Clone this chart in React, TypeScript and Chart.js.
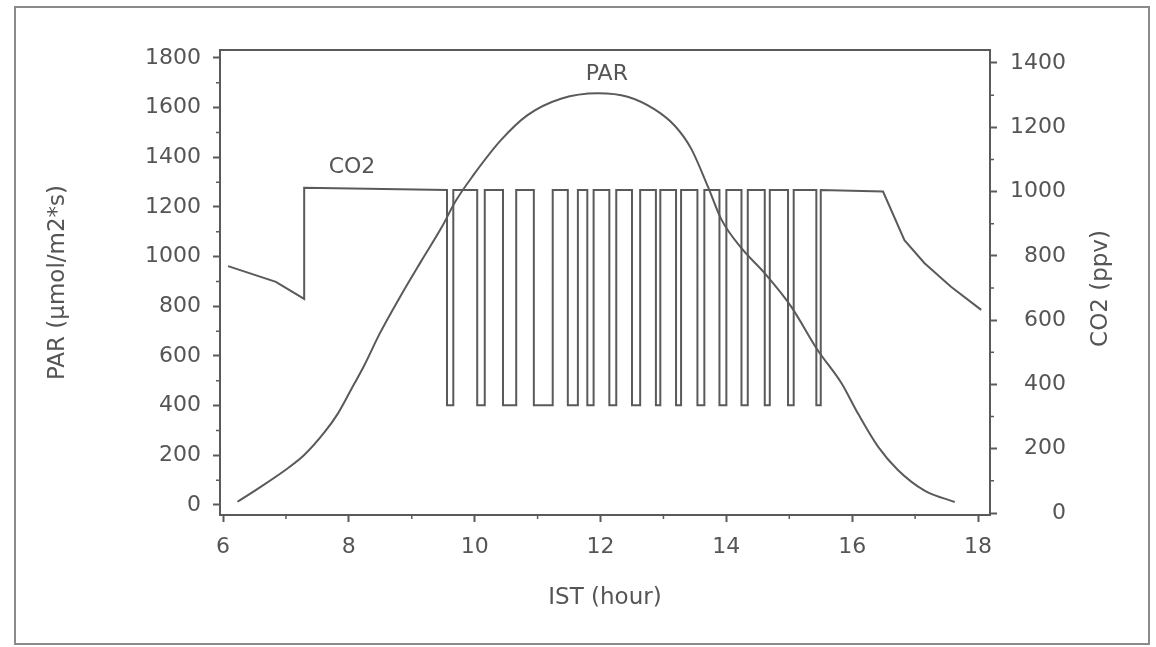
import React, { useEffect, useRef } from "react";
import { Chart, registerables } from "chart.js";

Chart.register(...registerables);

// ---------- data ----------
const parHours = [6.23, 6.52, 7.03, 7.29, 7.61, 7.82, 8.03, 8.25, 8.49, 8.8, 9.15, 9.47, 9.7, 9.97, 10.42, 10.84, 11.37, 11.96, 12.43, 12.86, 13.18, 13.44, 13.71, 13.92, 14.24, 14.61, 15.03, 15.45, 15.83, 16.09, 16.41, 16.73, 17.15, 17.63];
const parValues = [13, 60, 148, 201, 292, 366, 462, 565, 690, 832, 982, 1116, 1225, 1325, 1470, 1570, 1636, 1658, 1644, 1593, 1527, 1435, 1280, 1150, 1034, 933, 799, 624, 490, 369, 235, 140, 58, 12];

const co2LeadHours = [6.08, 6.84, 7.29, 7.29];
const co2LeadValues = [768, 719, 666, 1012];
const co2PulseDown = [9.56, 10.04, 10.45, 10.94, 11.48, 11.79, 12.14, 12.5, 12.88, 13.2, 13.54, 13.89, 14.24, 14.61, 14.98, 15.43];
const co2PulseUp = [9.66, 10.16, 10.66, 11.24, 11.64, 11.89, 12.25, 12.63, 12.95, 13.28, 13.65, 14.0, 14.34, 14.69, 15.07, 15.5];
const co2PulseHigh = 1005;
const co2PulseLow = 335;
const co2TailHours = [16.49, 16.83, 17.15, 17.57, 18.05];
const co2TailValues = [1000, 849, 777, 704, 632];

const xTickValues = [6, 8, 10, 12, 14, 16, 18];
const xMinorTicks = [7, 9, 11, 13, 15, 17];
const parTickValues = [0, 200, 400, 600, 800, 1000, 1200, 1400, 1600, 1800];
const parMinorTicks = [100, 300, 500, 700, 900, 1100, 1300, 1500, 1700];
const co2TickValues = [0, 200, 400, 600, 800, 1000, 1200, 1400];
const co2MinorTicks = [100, 300, 500, 700, 900, 1100, 1300];

const parLabel = { text: "PAR", x: 12.1, y: 1735 };
const co2Label = { text: "CO2", x: 8.05, y: 1075 };

const xTitle = "IST (hour)";
const parTitle = "PAR (\u03bcmol/m2*s)";
const co2Title = "CO2 (ppv)";

// ---------- styling ----------
const INK = "#5a5a5a";
const TEXT = "#555555";
const FONT = "DejaVu Sans";

function buildParPoints() {
  return parHours.map((h, i) => ({ x: h, y: parValues[i] }));
}

function buildCo2Points() {
  const pts: { x: number; y: number }[] = [];
  co2LeadHours.forEach((h, i) => pts.push({ x: h, y: co2LeadValues[i] }));
  co2PulseDown.forEach((d, i) => {
    const u = co2PulseUp[i];
    pts.push({ x: d, y: co2PulseHigh });
    pts.push({ x: d, y: co2PulseLow });
    pts.push({ x: u, y: co2PulseLow });
    pts.push({ x: u, y: co2PulseHigh });
  });
  co2TailHours.forEach((h, i) => pts.push({ x: h, y: co2TailValues[i] }));
  return pts;
}

const plainLabel = (v: any) => String(v);

const decorPlugin = {
  id: "decor",
  afterDraw(chart: any) {
    const { ctx, chartArea, scales } = chart;
    const sx = scales.x;
    const sp = scales.yPar;
    const sc = scales.yCo2;
    ctx.save();
    ctx.strokeStyle = INK;
    ctx.lineWidth = 2;
    ctx.beginPath();
    ctx.moveTo(chartArea.left - 1, chartArea.top);
    ctx.lineTo(chartArea.right + 1, chartArea.top);
    ctx.stroke();

    ctx.lineWidth = 1.5;
    ctx.beginPath();
    xMinorTicks.forEach((v) => {
      const px = sx.getPixelForValue(v);
      ctx.moveTo(px, chartArea.bottom);
      ctx.lineTo(px, chartArea.bottom + 4);
    });
    parMinorTicks.forEach((v) => {
      const py = sp.getPixelForValue(v);
      ctx.moveTo(chartArea.left - 4, py);
      ctx.lineTo(chartArea.left, py);
    });
    co2MinorTicks.forEach((v) => {
      const py = sc.getPixelForValue(v);
      ctx.moveTo(chartArea.right, py);
      ctx.lineTo(chartArea.right + 4, py);
    });
    ctx.stroke();

    ctx.fillStyle = TEXT;
    ctx.font = `22px "${FONT}"`;
    ctx.textAlign = "center";
    ctx.textBaseline = "middle";
    ctx.fillText(parLabel.text, sx.getPixelForValue(parLabel.x), sp.getPixelForValue(parLabel.y));
    ctx.fillText(co2Label.text, sx.getPixelForValue(co2Label.x), sc.getPixelForValue(co2Label.y));

    ctx.font = `23px "${FONT}"`;
    ctx.textBaseline = "alphabetic";
    ctx.translate(chartArea.right + 117, (chartArea.top + chartArea.bottom) / 2 + 6);
    ctx.rotate(-Math.PI / 2);
    ctx.fillText(co2Title, 0, 0);
    ctx.restore();
  },
};

export default function App() {
  const canvasRef = useRef<HTMLCanvasElement | null>(null);

  useEffect(() => {
    if (!canvasRef.current) return;
    const tickFont = { family: FONT, size: 22 };
    const titleFont = { family: FONT, size: 23 };
    const chart = new Chart(canvasRef.current, {
      type: "line",
      data: {
        datasets: [
          {
            label: "PAR",
            data: buildParPoints(),
            yAxisID: "yPar",
            borderColor: INK,
            borderWidth: 2,
            pointRadius: 0,
            fill: false,
            tension: 0.4,
            cubicInterpolationMode: "monotone",
          },
          {
            label: "CO2",
            data: buildCo2Points(),
            yAxisID: "yCo2",
            borderColor: INK,
            borderWidth: 2,
            pointRadius: 0,
            fill: false,
            tension: 0,
          },
        ],
      },
      options: {
        responsive: false,
        maintainAspectRatio: false,
        animation: false,
        layout: { padding: { top: 50, left: 0, right: 90, bottom: 0 } },
        plugins: { legend: { display: false }, tooltip: { enabled: false } },
        scales: {
          x: {
            type: "linear",
            min: 5.952,
            max: 18.19,
            afterBuildTicks: (s: any) => {
              s.ticks = xTickValues.map((v) => ({ value: v }));
            },
            afterFit: (s: any) => {
              s.height = 132;
            },
            grid: { drawOnChartArea: false, drawTicks: true, tickLength: 7, tickColor: INK, tickWidth: 2 },
            border: { display: true, color: INK, width: 2 },
            ticks: { color: TEXT, font: tickFont, padding: 12, maxRotation: 0, autoSkip: false, callback: plainLabel },
            title: { display: true, text: xTitle, color: TEXT, font: titleFont, padding: { top: 0, bottom: 35 } },
          },
          yPar: {
            type: "linear",
            position: "left",
            min: -40.3,
            max: 1832.2,
            afterBuildTicks: (s: any) => {
              s.ticks = parTickValues.map((v) => ({ value: v }));
            },
            afterFit: (s: any) => {
              s.width = 220;
            },
            grid: { drawOnChartArea: false, drawTicks: true, tickLength: 7, tickColor: INK, tickWidth: 2 },
            border: { display: true, color: INK, width: 2 },
            ticks: { color: TEXT, font: tickFont, padding: 12, autoSkip: false, callback: plainLabel },
            title: { display: true, text: parTitle, color: TEXT, font: titleFont, padding: { top: 44, bottom: 0 } },
          },
          yCo2: {
            type: "linear",
            position: "right",
            min: -6.2,
            max: 1440.4,
            afterBuildTicks: (s: any) => {
              s.ticks = co2TickValues.map((v) => ({ value: v }));
            },
            afterFit: (s: any) => {
              s.width = 76;
            },
            grid: { drawOnChartArea: false, drawTicks: true, tickLength: 7, tickColor: INK, tickWidth: 2 },
            border: { display: true, color: INK, width: 2 },
            ticks: { color: TEXT, font: tickFont, padding: 13, crossAlign: "far", autoSkip: false, callback: plainLabel },
            title: { display: false },
          },
        },
      },
      plugins: [decorPlugin],
    } as any);
    return () => chart.destroy();
  }, []);

  return (
    <div style={{ position: "fixed", left: 0, top: 0, width: 1156, height: 647, background: "#fff" }}>
      <canvas ref={canvasRef} width={1156} height={647} style={{ display: "block", width: 1156, height: 647 }} />
      <div
        style={{
          position: "absolute",
          left: 14,
          top: 6,
          width: 1136,
          height: 639,
          border: "2px solid #8a8a8a",
          boxSizing: "border-box",
          pointerEvents: "none",
        }}
      />
    </div>
  );
}
